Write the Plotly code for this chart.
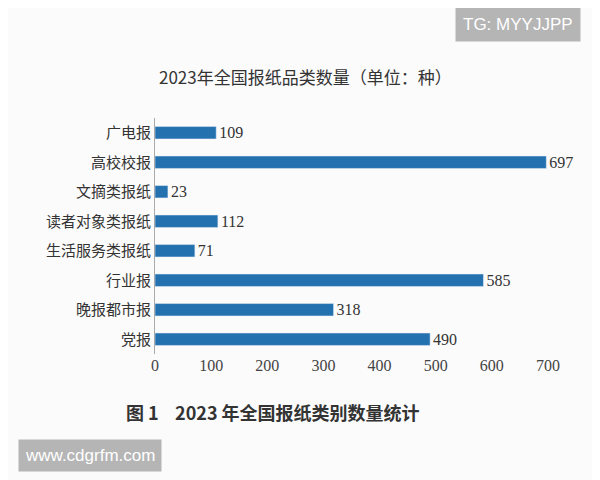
import plotly.graph_objects as go

categories = ["广电报", "高校校报", "文摘类报纸", "读者对象类报纸", "生活服务类报纸", "行业报", "晚报都市报", "党报"]
values = [109, 697, 23, 112, 71, 585, 318, 490]
xticks = [0, 100, 200, 300, 400, 500, 600, 700]

font = "Noto Sans CJK SC"
OFF = 8  # page offset in the screenshot
L, T = 155 - OFF, 118 - OFF
PW, PH = 393, 236
W, H = 600, 480
R = W - L - PW
B = H - T - PH

def px(x):
    return (x - OFF - L) / PW

def py(y):
    return (H - B - (y - OFF)) / PH

fig = go.Figure(go.Bar(
    x=values, y=categories, orientation="h",
    marker_color="#2471b0", width=0.42,
    text=[str(v) for v in values], textposition="outside", constraintext="none",
    textfont=dict(family="Liberation Serif", size=16, color="#333"),
    cliponaxis=False,
))
fig.update_layout(
    width=W, height=H,
    margin=dict(l=L, r=R, t=T, b=B, autoexpand=False),
    paper_bgcolor="#fbfbfb", plot_bgcolor="#fbfbfb",
    showlegend=False,
    annotations=[
        dict(text="2023年全国报纸品类数量（单位：种）", x=px(305), y=py(76),
             xanchor="center", yanchor="middle", xref="paper", yref="paper",
             showarrow=False, font=dict(family=font, size=17, color="#333")),
        dict(text="<b>图 1    2023 年全国报纸类别数量统计</b>", x=px(273), y=py(412),
             xanchor="center", yanchor="middle", xref="paper", yref="paper",
             showarrow=False, font=dict(family=font, size=18, color="#333")),
        dict(text="TG: MYYJJPP", xref="paper", yref="paper", x=px(518), y=py(25),
             xanchor="center", yanchor="middle",
             showarrow=False, bgcolor="#b5b5b5", font=dict(family="Liberation Sans", size=17, color="white"),
             borderpad=7),
        dict(text="www.cdgrfm.com", xref="paper", yref="paper", x=px(90), y=py(455),
             xanchor="center", yanchor="middle",
             showarrow=False, bgcolor="#b5b5b5", font=dict(family="Liberation Sans", size=17, color="white"),
             borderpad=6),
    ],
    xaxis=dict(range=[0, 700], tickvals=xticks, showgrid=False, zeroline=False,
               showline=False, ticks="", tickfont=dict(family="Liberation Serif", size=16, color="#444")),
    yaxis=dict(autorange="reversed", showline=True, linecolor="#aaa", ticks="",
               tickfont=dict(family=font, size=15, color="#333")),
)
fig.write_html("out.html")
